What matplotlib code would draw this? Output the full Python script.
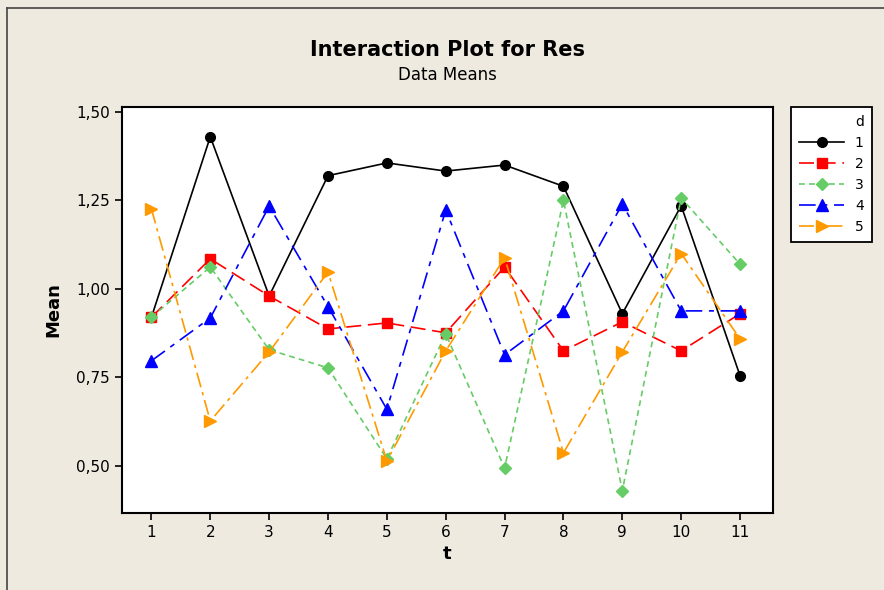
import matplotlib
matplotlib.use("Agg")
import matplotlib.pyplot as plt
from matplotlib.lines import Line2D
from matplotlib.ticker import FuncFormatter

# data means
t = [1, 2, 3, 4, 5, 6, 7, 8, 9, 10, 11]
d_levels = ["1", "2", "3", "4", "5"]
mean_d1 = [0.92, 1.43, 0.98, 1.32, 1.356, 1.333, 1.35, 1.29, 0.93, 1.235, 0.755]
mean_d2 = [0.92, 1.085, 0.98, 0.887, 0.904, 0.876, 1.062, 0.825, 0.907, 0.825, 0.93]
mean_d3 = [0.92, 1.062, 0.828, 0.777, 0.52, 0.873, 0.494, 1.25, 0.43, 1.257, 1.07]
mean_d4 = [0.797, 0.918, 1.234, 0.95, 0.66, 1.223, 0.814, 0.938, 1.24, 0.938, 0.938]
mean_d5 = [1.226, 0.627, 0.822, 1.048, 0.514, 0.825, 1.088, 0.537, 0.822, 1.10, 0.859]
y_ticks = [0.50, 0.75, 1.00, 1.25, 1.50]

STYLES = [
    # colour, marker, dashes, marker size
    ("black",   "o", None,               7),
    ("#ff0000", "s", (9, 4),             7),
    ("#66cc66", "D", (3.5, 2.5),         6),
    ("#0000ff", "^", (10, 4, 3, 4),      8),
    ("#ff9900", ">", (9, 3, 2, 3),       8),
]
BG = "#eeeae0"

fig = plt.figure(figsize=(8.84, 5.90), dpi=100, facecolor=BG)
ax = fig.add_axes([122 / 884, 1 - 513 / 590, 651 / 884, 406 / 590])

series = [mean_d1, mean_d2, mean_d3, mean_d4, mean_d5]
handles = []
for lvl, vals, (col, mk, dash, ms) in zip(d_levels, series, STYLES):
    kw = dict(color=col, marker=mk, markersize=ms, lw=1.2,
              markeredgecolor=col, label=lvl)
    (ln,) = ax.plot(t, vals, **kw)
    if dash:
        ln.set_dashes(dash)
    h = Line2D([0], [0], **kw)
    if dash:
        h.set_dashes(dash)
    handles.append(h)

ax.set_xlim(0.5, 11.56)
ax.set_ylim(0.367, 1.514)
ax.set_xticks(t)
ax.set_yticks(y_ticks)
ax.yaxis.set_major_formatter(FuncFormatter(lambda v, _: f"{v:.2f}".replace(".", ",")))
ax.tick_params(direction="out", length=5, width=1.2, labelsize=11)
for s in ax.spines.values():
    s.set_linewidth(1.5)
ax.set_xlabel("t", fontsize=13, fontweight="bold", labelpad=4)
ax.set_ylabel("Mean", fontsize=13, fontweight="bold", labelpad=10)

fig.text(447 / 884, 1 - 50 / 590, "Interaction Plot for Res", ha="center", va="center",
         fontsize=15, fontweight="bold")
fig.text(447 / 884, 1 - 75 / 590, "Data Means", ha="center", va="center", fontsize=12)

leg = fig.legend(handles=handles, title="d", loc="upper left",
                 bbox_to_anchor=(791 / 884, 1 - 107 / 590), borderaxespad=0,
                 fontsize=10, title_fontsize=10, handlelength=3.2,
                 labelspacing=0.5, fancybox=False, edgecolor="black",
                 framealpha=1, borderpad=0.6)
leg.get_frame().set_linewidth(1.3)
leg._legend_box.align = "right"

# outer frame of the graph window
fig.add_artist(Line2D([7 / 884, 7 / 884], [0, 1 - 8 / 590], color="#444444",
                      lw=1.2, transform=fig.transFigure))
fig.add_artist(Line2D([7 / 884, 1], [1 - 8 / 590, 1 - 8 / 590], color="#444444",
                      lw=1.2, transform=fig.transFigure))

fig.savefig("out.png", dpi=100, facecolor=BG)
